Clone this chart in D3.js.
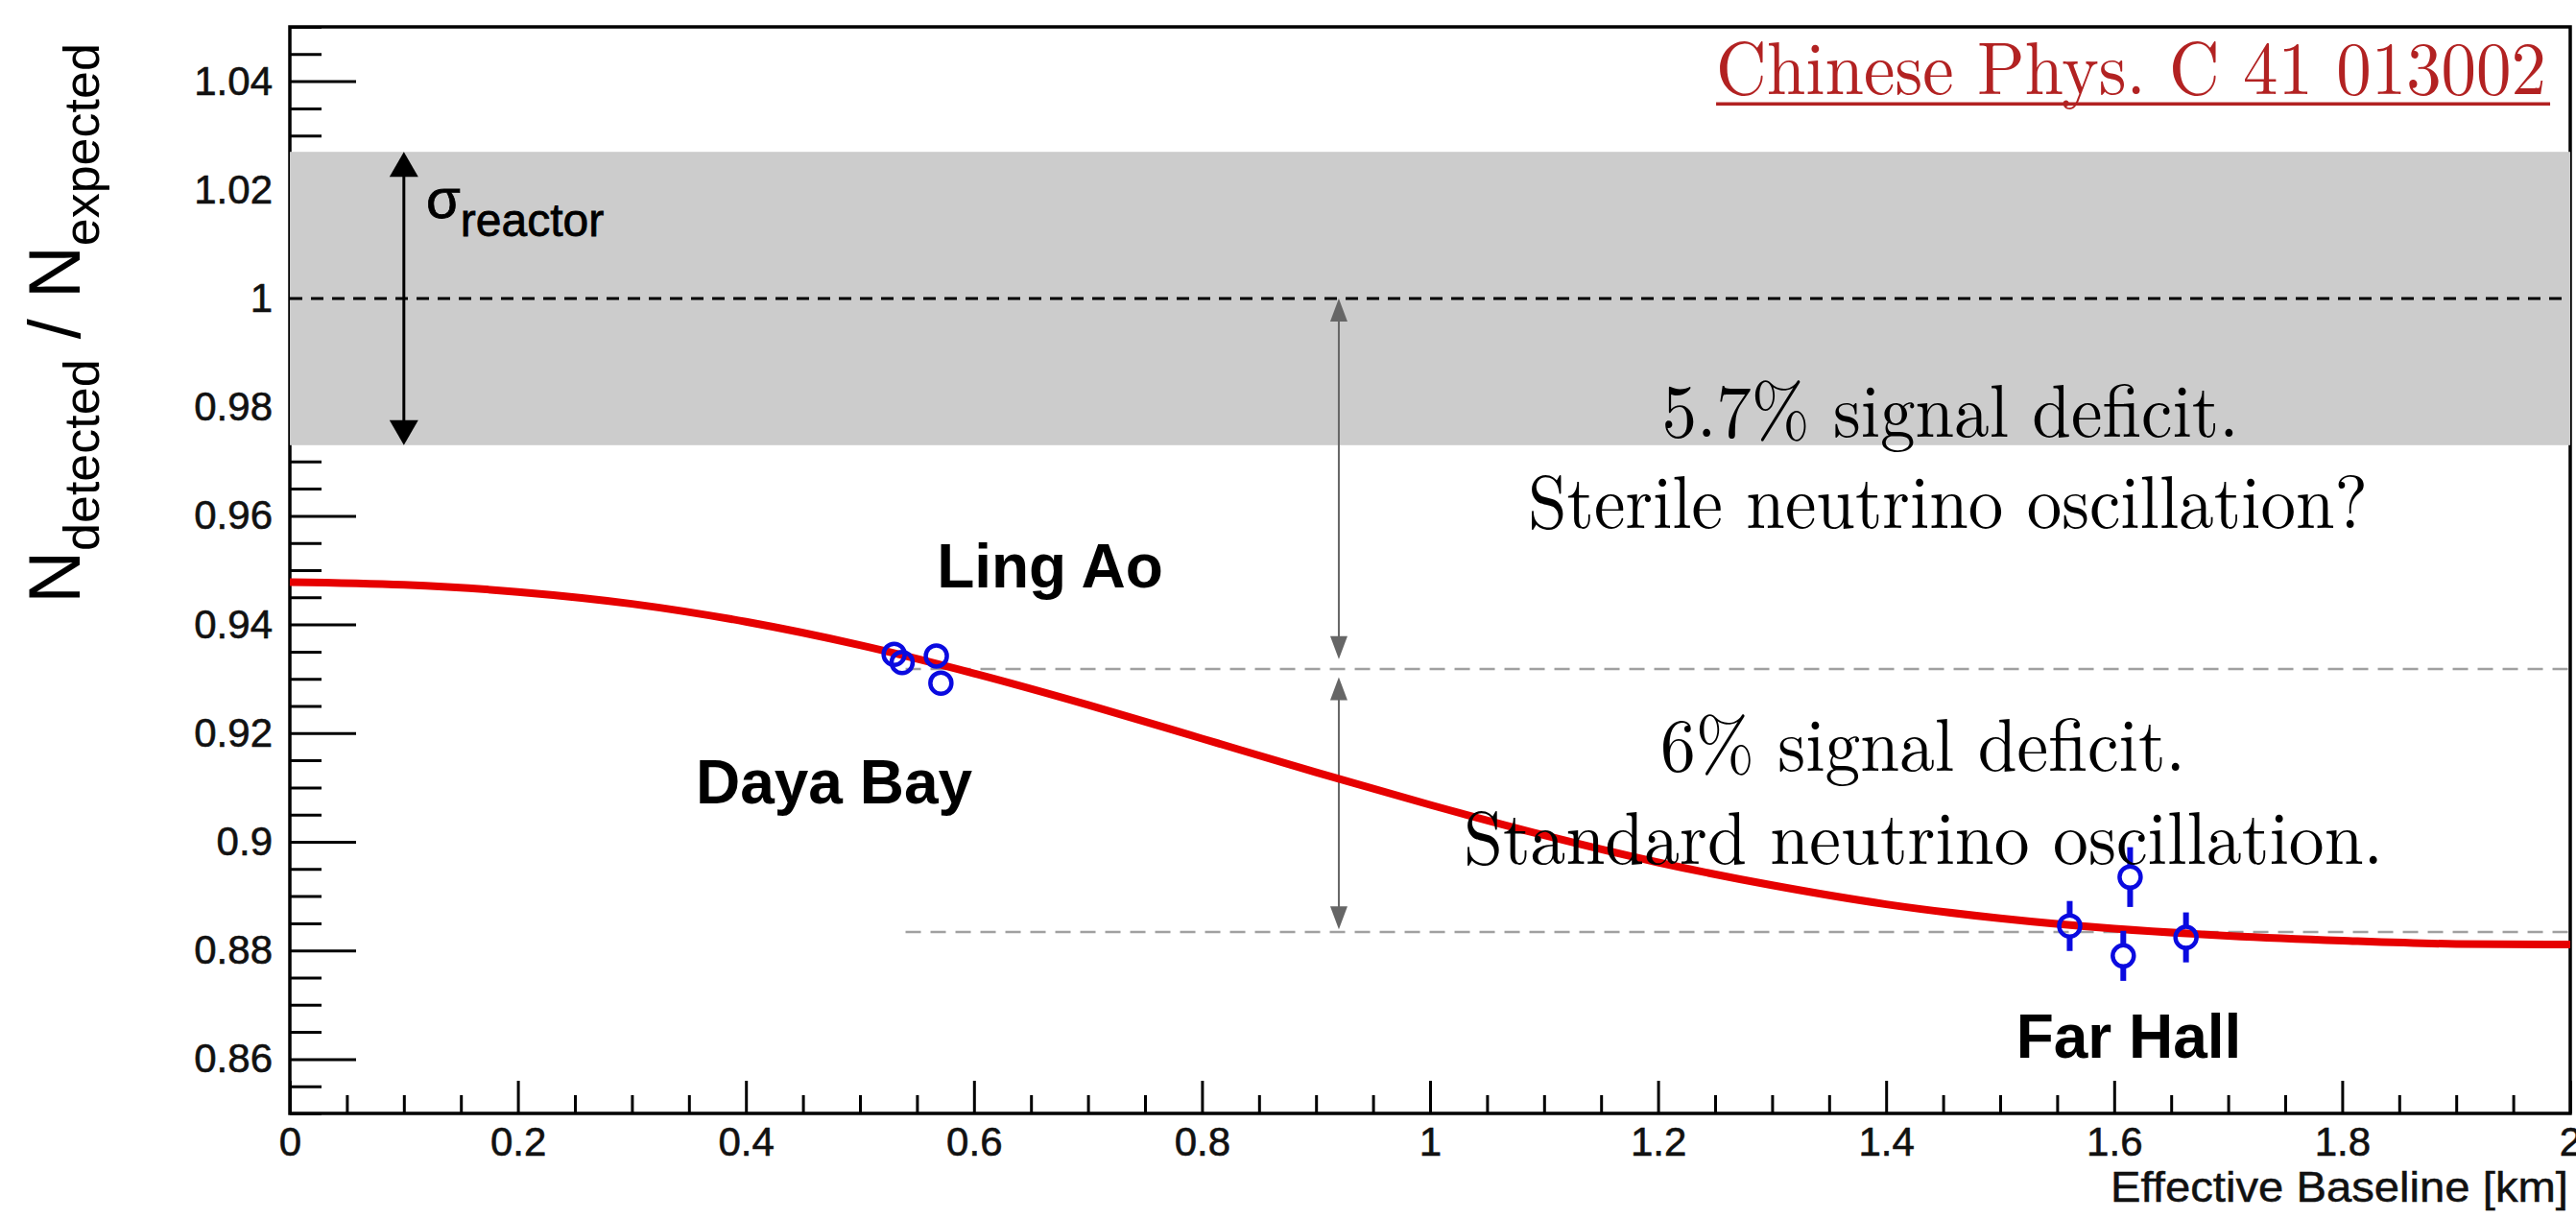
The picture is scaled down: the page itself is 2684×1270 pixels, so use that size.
<!DOCTYPE html>
<html><head><meta charset="utf-8">
<script src="https://cdn.jsdelivr.net/npm/d3@7"></script>
<style>html,body{margin:0;padding:0;background:#fff;overflow:hidden}</style>
</head><body>
<svg id="chart" width="2684" height="1270"></svg>
<script>
// ---------------- data ----------------
// oscillation fit curve: effective baseline [km] vs N_detected/N_expected
const curveBaseline = [0.0,0.1,0.2,0.3,0.4,0.5,0.6,0.7,0.8,0.9,1.0,1.1,1.2,1.3,1.4,1.5,1.6,1.7,1.8,1.9,2.0];
const curveRatio    = [0.9478,0.9473,0.9460,0.9438,0.9405,0.9362,0.9310,0.9252,0.9190,0.9128,0.9068,0.9012,0.8962,0.8920,0.8885,0.8859,0.8840,0.8827,0.8818,0.8812,0.8811];
// detectors (Daya Bay / Ling Ao near halls, Far Hall)
const detBaseline = [0.530,0.537,0.567,0.571,1.561,1.608,1.614,1.663];
const detRatio    = [0.9345,0.9330,0.9342,0.9292,0.8845,0.8790,0.8935,0.8824];
const detError    = [0.0010,0.0010,0.0010,0.0010,0.0046,0.0046,0.0055,0.0046];
// reference levels
const expectedLevel = 1.0;
const sigmaReactor = 0.027;
const nearLevel = 0.9318;
const farLevel = 0.8834;
// axes ticks
const xTickValues = [0,0.2,0.4,0.6,0.8,1,1.2,1.4,1.6,1.8,2];
const xTickLabels = ["0","0.2","0.4","0.6","0.8","1","1.2","1.4","1.6","1.8","2"];
const yTickValues = [0.86,0.88,0.90,0.92,0.94,0.96,0.98,1.00,1.02,1.04];
const yTickLabels = ["0.86","0.88","0.9","0.92","0.94","0.96","0.98","1","1.02","1.04"];
const hallLabels = ["Ling Ao","Daya Bay","Far Hall"];

// ---------------- layout ----------------
const frame = {left:302, right:2678, top:28, bottom:1160};
const x = d3.scaleLinear().domain([0,2]).range([frame.left, frame.right]);
const y = d3.scaleLinear().domain([0.85,1.05]).range([frame.bottom, frame.top]);
const svg = d3.select('#chart');
const SANS = '"Liberation Sans", Arial, Helvetica, sans-serif';
const SERIF = '"Latin Modern Roman","CMU Serif","Liberation Serif","Times New Roman",serif';

// minor ticks
const xMinor = d3.range(0, 2.0001, 0.05).filter(v => Math.abs(v/0.2 - Math.round(v/0.2)) > 1e-6);
const yMinor = d3.range(0.85, 1.0501, 0.005).filter(v => Math.abs(v/0.02 - Math.round(v/0.02)) > 1e-6);

const gAxes = svg.append('g');
gAxes.append('g').attr('transform',`translate(0,${frame.bottom})`)
  .call(d3.axisBottom(x).tickValues(xMinor).tickSize(-19).tickFormat(''));
const xAxis = gAxes.append('g').attr('transform',`translate(0,${frame.bottom})`)
  .call(d3.axisBottom(x).tickValues(xTickValues).tickSize(-34).tickPadding(14)
    .tickFormat((d,i)=>xTickLabels[i]));
gAxes.append('g').attr('transform',`translate(${frame.left},0)`)
  .call(d3.axisLeft(y).tickValues(yMinor).tickSize(-33).tickFormat(''));
gAxes.append('g').attr('transform',`translate(${frame.left},0)`)
  .call(d3.axisLeft(y).tickValues(yTickValues).tickSize(-69).tickPadding(18)
    .tickFormat((d,i)=>yTickLabels[i]));
gAxes.selectAll('.domain').remove();
gAxes.selectAll('.tick line').attr('stroke','#000').attr('stroke-width',3);
gAxes.selectAll('.tick text').attr('font-family',SANS).attr('font-size',42).attr('fill','#111')
  .attr('stroke','#111').attr('stroke-width',0.6);
xAxis.selectAll('.tick text').attr('dy','0.71em');

// frame
svg.append('rect').attr('x',frame.left).attr('y',frame.top)
  .attr('width',frame.right-frame.left).attr('height',frame.bottom-frame.top)
  .attr('fill','none').attr('stroke','#000').attr('stroke-width',3.5);

// reactor uncertainty band
svg.append('rect').attr('x',x(0)).attr('width',x(2)-x(0))
  .attr('y',y(expectedLevel+sigmaReactor)).attr('height',y(expectedLevel-sigmaReactor)-y(expectedLevel+sigmaReactor))
  .attr('fill','#cccccc');

// expected level dashed
svg.append('line').attr('x1',x(0)).attr('x2',x(2)).attr('y1',y(expectedLevel)).attr('y2',y(expectedLevel))
  .attr('stroke','#000').attr('stroke-width',3).attr('stroke-dasharray','13 9');

// near / far reference levels (gray dashed)
[nearLevel, farLevel].forEach(v=>{
  svg.append('line').attr('x1',x(0.54)).attr('x2',x(2)).attr('y1',y(v)).attr('y2',y(v))
    .attr('stroke','#a0a0a0').attr('stroke-width',2.5).attr('stroke-dasharray','16 10');
});

// arrows
function arrow(xv, v1, v2, color, lw, hw, hl){
  const g = svg.append('g');
  const X = x(xv), Y1 = y(v1), Y2 = y(v2); // Y1 top, Y2 bottom
  g.append('line').attr('x1',X).attr('x2',X).attr('y1',Y1+hl*0.5).attr('y2',Y2-hl*0.5)
    .attr('stroke',color).attr('stroke-width',lw);
  g.append('path').attr('d',`M${X},${Y1} L${X-hw/2},${Y1+hl} L${X+hw/2},${Y1+hl} Z`).attr('fill',color);
  g.append('path').attr('d',`M${X},${Y2} L${X-hw/2},${Y2-hl} L${X+hw/2},${Y2-hl} Z`).attr('fill',color);
}
arrow(0.1, expectedLevel+sigmaReactor, expectedLevel-sigmaReactor, '#000', 3, 30, 26);
arrow(0.92, expectedLevel, nearLevel+0.0018, '#666', 2, 18, 24);
arrow(0.92, nearLevel-0.0015, farLevel+0.0005, '#666', 2, 18, 24);

// fit curve
const curveData = curveBaseline.map((b,i)=>[b, curveRatio[i]]);
svg.append('path').datum(curveData)
  .attr('d', d3.line().x(d=>x(d[0])).y(d=>y(d[1])).curve(d3.curveMonotoneX))
  .attr('fill','none').attr('stroke','#e60000').attr('stroke-width',8).attr('stroke-linecap','butt');

// detector points
const R = 11;
const blue = '#0a0ae0';
const pts = detBaseline.map((b,i)=>({b, v:detRatio[i], e:detError[i]}));
const gp = svg.append('g');
pts.forEach(p=>{
  const cx = x(p.b), cy = y(p.v), top = y(p.v+p.e), bot = y(p.v-p.e);
  if (cy - top > R) gp.append('line').attr('x1',cx).attr('x2',cx).attr('y1',top).attr('y2',cy-R)
      .attr('stroke',blue).attr('stroke-width',6);
  if (bot - cy > R) gp.append('line').attr('x1',cx).attr('x2',cx).attr('y1',cy+R).attr('y2',bot)
      .attr('stroke',blue).attr('stroke-width',6);
  gp.append('circle').attr('cx',cx).attr('cy',cy).attr('r',R)
    .attr('fill','none').attr('stroke',blue).attr('stroke-width',4.5);
});

// hall labels
const hallPos = [[0.6667,0.9468],[0.4773,0.9071],[1.6128,0.8603]];
hallLabels.forEach((t,i)=>{
  svg.append('text').attr('x',x(hallPos[i][0])).attr('y',y(hallPos[i][1]))
    .attr('text-anchor','middle').attr('font-family',SANS).attr('font-weight','bold')
    .attr('font-size',64).attr('fill','#000').text(t);
});

// sigma reactor label
const sig = svg.append('text').attr('x',x(0.1195)).attr('y',y(1.0148))
  .attr('font-family',SANS).attr('fill','#000').attr('stroke','#000').attr('stroke-width',0.8);
sig.append('tspan').attr('font-size',58).text('σ');
sig.append('tspan').attr('font-size',48).attr('dy',19).text('reactor');

// deficit annotations (serif)
const notes = [
  {t:'5.7% signal deficit.', b:1.4562, v:0.97456, w:601},
  {t:'Sterile neutrino oscillation?', b:1.4541, v:0.95777, w:875},
  {t:'6% signal deficit.', b:1.4322, v:0.91307, w:547},
  {t:'Standard neutrino oscillation.', b:1.4327, v:0.89594, w:958}
];
notes.forEach(n=>{
  svg.append('text').attr('x',x(n.b)).attr('y',y(n.v)).attr('text-anchor','middle')
    .attr('font-family',SERIF).attr('font-size',78).attr('fill','#000')
    .attr('textLength',n.w).attr('lengthAdjust','spacingAndGlyphs').text(n.t);
});

// citation
const cit = svg.append('text').attr('x',x(1.979)).attr('y',y(1.0376)).attr('text-anchor','end')
  .attr('font-family',SERIF).attr('font-size',78).attr('fill','#b22222')
  .attr('textLength',865).attr('lengthAdjust','spacingAndGlyphs').text('Chinese Phys. C 41 013002');
const cb = cit.node().getBBox();
svg.append('line').attr('x1',cb.x).attr('x2',cb.x+cb.width+4).attr('y1',y(1.0376)+10).attr('y2',y(1.0376)+10)
  .attr('stroke','#b22222').attr('stroke-width',3.5);

// x axis title
svg.append('text').attr('x',frame.right-2).attr('y',1252).attr('text-anchor','end')
  .attr('font-family',SANS).attr('font-size',44).attr('fill','#111').attr('stroke','#111').attr('stroke-width',0.5)
  .attr('textLength',477).attr('lengthAdjust','spacingAndGlyphs').text('Effective Baseline [km]');

// y axis title
const yt = svg.append('text').attr('transform','translate(83,337) rotate(-90)')
  .attr('text-anchor','middle').attr('font-family',SANS).attr('fill','#000').attr('font-size',76);
yt.append('tspan').text('N');
yt.append('tspan').attr('font-size',52).attr('dy',20).text('detected');
yt.append('tspan').attr('dy',-20).text(' / N');
yt.append('tspan').attr('font-size',52).attr('dy',20).text('expected');
</script>
</body></html>
